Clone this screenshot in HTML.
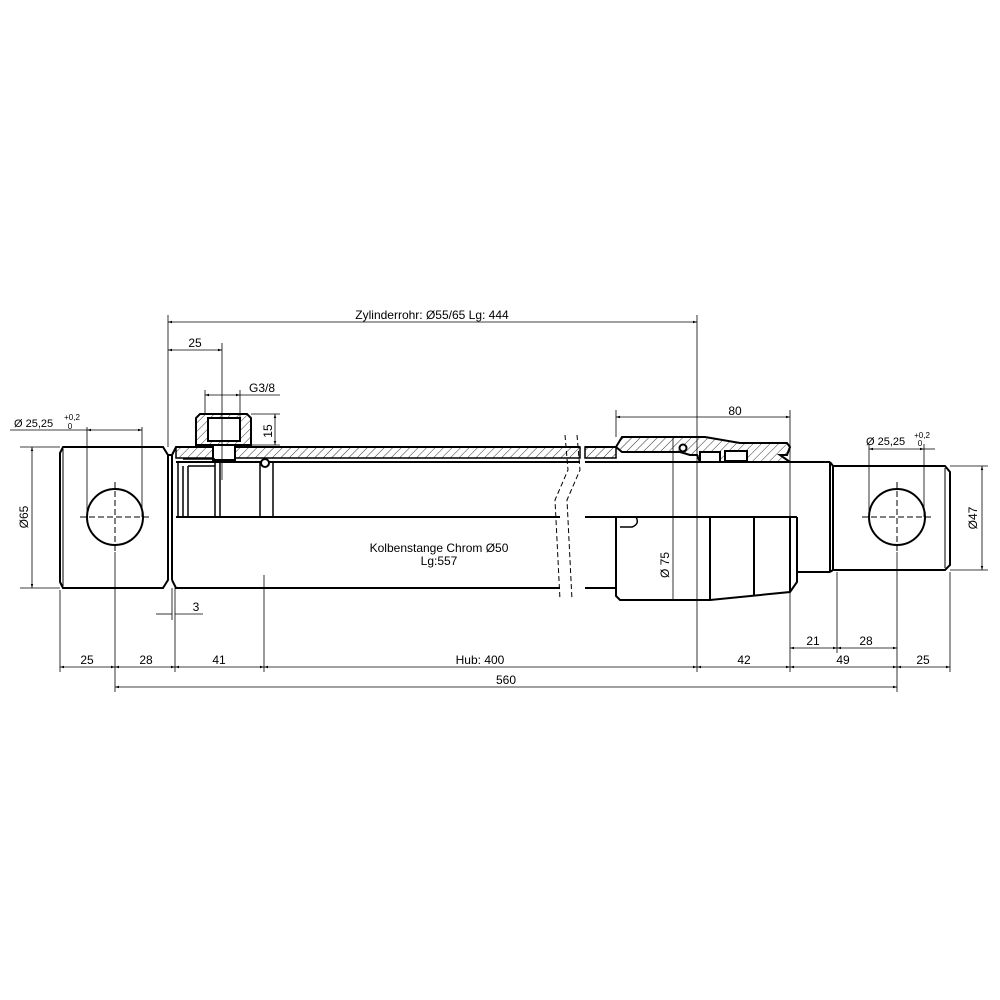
<!DOCTYPE html>
<html><head><style>html,body{margin:0;padding:0;background:#fff}svg{display:block}</style></head><body>
<svg width="1000" height="1000" viewBox="0 0 1000 1000" xmlns="http://www.w3.org/2000/svg" font-family="Liberation Sans, sans-serif">
<defs>
<pattern id="h" width="6" height="6" patternUnits="userSpaceOnUse" patternTransform="rotate(45)"><line x1="0" y1="0" x2="0" y2="6" stroke="#000" stroke-width="0.8"/></pattern>
<marker id="a" viewBox="0 0 10 10" refX="10" refY="5" markerWidth="7" markerHeight="5" orient="auto-start-reverse"><path d="M0,2L10,5L0,8z" fill="#000"/></marker>
</defs>
<rect width="1000" height="1000" fill="#fff"/>
<g fill="none" stroke="#000" stroke-width="2">
<path d="M63,447 L163,447 L168,455 L168,580 L163,588 L63,588 L60,582 L60,453 Z"/>
<line x1="63" y1="449" x2="63" y2="586" stroke-width="1"/>
<circle cx="115" cy="517" r="28"/>
<line x1="168" y1="455" x2="172" y2="455"/>
<line x1="172" y1="455" x2="172" y2="580"/>
<path d="M172,455 L176,447 L580,447"/>
<path d="M172,580 L176,588 L560,588"/>
<rect x="176" y="447" width="404" height="11" fill="url(#h)" stroke-width="1.5"/>
<line x1="176" y1="462" x2="580" y2="462"/>
<line x1="176" y1="517" x2="560" y2="517"/>
<path d="M200,414 L247,414 L251,418 L251,445 L196,445 L196,418 Z" fill="url(#h)"/>
<rect x="208" y="418" width="32" height="23" fill="#fff"/>
<rect x="213" y="445" width="22" height="15" fill="#fff"/>
<g stroke-width="1.5">
<line x1="178" y1="462" x2="178" y2="517"/>
<line x1="183" y1="466" x2="183" y2="517"/>
<line x1="188" y1="466" x2="188" y2="517"/>
<line x1="215" y1="462" x2="215" y2="517"/>
<line x1="220" y1="462" x2="220" y2="517"/>
<line x1="260" y1="462" x2="260" y2="517"/>
<line x1="273" y1="462" x2="273" y2="517"/>
<line x1="188" y1="466" x2="215" y2="466"/>
<line x1="183" y1="459" x2="215" y2="459"/>
</g>
<circle cx="265" cy="463" r="4" fill="#fff"/>
<rect x="585" y="447" width="31" height="11" fill="url(#h)" stroke-width="1.5"/>
<line x1="585" y1="447" x2="616" y2="447"/>
<line x1="585" y1="462" x2="830" y2="462"/>
<line x1="585" y1="517" x2="797" y2="517"/>
<line x1="585" y1="588" x2="616" y2="588"/>
<path d="M622,437 L705,437 L740,443 L787,443 L790,447 L787,455 L780,455 L790,462 L720,462 L720,452 L700,452 L700,462 L700,462 L697,455 L690,455 L680,452 L622,452 L616,447 Z" fill="url(#h)"/>
<rect x="725" y="451" width="22" height="10" fill="#fff"/>
<circle cx="683" cy="448" r="3.5" fill="#fff"/>
<path d="M616,517 L616,596 L620,600 L710,600 L790,592 L797,582 L797,517"/>
<path d="M616,517 L636,517 Q640,524 632,527 L620,527" stroke-width="1.5"/>
<line x1="710" y1="517" x2="710" y2="600"/>
<line x1="754" y1="517" x2="754" y2="595"/>
<line x1="790" y1="517" x2="790" y2="592"/>
<line x1="830" y1="462" x2="830" y2="572"/>
<line x1="797" y1="572" x2="830" y2="572"/>
<path d="M830,462 L833,466 L833,570 L830,572"/>
<path d="M833,466 L945,466 L950,472 L950,565 L945,570 L833,570"/>
<line x1="945" y1="468" x2="945" y2="568" stroke-width="1"/>
<circle cx="897" cy="517" r="28"/>
</g>
<g fill="none" stroke="#000" stroke-width="1" stroke-dasharray="5,3">
<path d="M565,435 L568,470 L555,500 L560,600"/>
<path d="M577,435 L580,470 L567,500 L572,600"/>
</g>
<g stroke="#000" stroke-width="1" stroke-dasharray="6,3">
<line x1="80" y1="517" x2="150" y2="517"/><line x1="115" y1="482" x2="115" y2="552"/>
<line x1="862" y1="517" x2="932" y2="517"/><line x1="897" y1="482" x2="897" y2="552"/>
</g>
<g stroke="#000" stroke-width="0.8" fill="none">
<line x1="168" y1="315" x2="168" y2="447"/>
<line x1="697" y1="315" x2="697" y2="672"/>
<line x1="222" y1="343" x2="222" y2="480"/>
<line x1="205" y1="390" x2="205" y2="414"/><line x1="240" y1="390" x2="240" y2="418"/>
<line x1="251" y1="414" x2="280" y2="414"/><line x1="251" y1="445" x2="280" y2="445"/>
<line x1="87" y1="427" x2="87" y2="517"/><line x1="142" y1="427" x2="142" y2="517"/>
<line x1="20" y1="447" x2="60" y2="447"/><line x1="20" y1="588" x2="60" y2="588"/>
<line x1="60" y1="590" x2="60" y2="672"/>
<line x1="115" y1="552" x2="115" y2="692"/>
<line x1="172" y1="588" x2="172" y2="620"/><line x1="175" y1="588" x2="175" y2="672"/>
<line x1="264" y1="575" x2="264" y2="672"/>
<line x1="616" y1="410" x2="616" y2="437"/><line x1="790" y1="410" x2="790" y2="672"/>
<line x1="673" y1="437" x2="673" y2="600"/>
<line x1="837" y1="572" x2="837" y2="653"/>
<line x1="897" y1="552" x2="897" y2="692"/>
<line x1="950" y1="572" x2="950" y2="672"/>
<line x1="869" y1="444" x2="869" y2="517"/><line x1="924" y1="444" x2="924" y2="517"/>
<line x1="950" y1="466" x2="988" y2="466"/><line x1="950" y1="570" x2="988" y2="570"/>
</g>
<g stroke="#000" stroke-width="0.8" marker-start="url(#a)" marker-end="url(#a)">
<line x1="168" y1="322" x2="697" y2="322"/>
<line x1="168" y1="350" x2="222" y2="350"/>
<line x1="205" y1="395" x2="240" y2="395"/>
<line x1="275" y1="414" x2="275" y2="445"/>
<line x1="87" y1="430" x2="142" y2="430"/>
<line x1="32" y1="447" x2="32" y2="588"/>
<line x1="616" y1="417" x2="790" y2="417"/>
<line x1="869" y1="449" x2="924" y2="449"/>
<line x1="982" y1="466" x2="982" y2="570"/>
<line x1="60" y1="667" x2="115" y2="667"/>
<line x1="115" y1="667" x2="175" y2="667"/>
<line x1="175" y1="667" x2="264" y2="667"/>
<line x1="264" y1="667" x2="697" y2="667"/>
<line x1="697" y1="667" x2="790" y2="667"/>
<line x1="790" y1="667" x2="897" y2="667"/>
<line x1="897" y1="667" x2="950" y2="667"/>
<line x1="790" y1="648" x2="837" y2="648"/>
<line x1="837" y1="648" x2="897" y2="648"/>
<line x1="115" y1="687" x2="897" y2="687"/>
</g>
<g stroke="#000" stroke-width="0.8">
<line x1="10" y1="430" x2="87" y2="430"/>
<line x1="240" y1="395" x2="280" y2="395"/>
<line x1="156" y1="614" x2="172" y2="614"/><line x1="175" y1="614" x2="203" y2="614"/>
<line x1="924" y1="449" x2="935" y2="449"/>
</g>
<g fill="#000" font-size="12" text-anchor="middle">
<text x="432" y="319">Zylinderrohr: Ø55/65 Lg: 444</text>
<text x="195" y="347">25</text>
<text x="262" y="392">G3/8</text>
<text x="272" y="431" transform="rotate(-90 272 431)">15</text>
<text x="14" y="427" text-anchor="start" font-size="11">Ø 25,25</text>
<text x="72" y="420" font-size="8">+0,2</text><text x="70" y="429" font-size="8">0</text>
<text x="28" y="517" transform="rotate(-90 28 517)">Ø65</text>
<text x="196" y="611">3</text>
<text x="735" y="415">80</text>
<text x="866" y="445" text-anchor="start" font-size="11">Ø 25,25</text>
<text x="922" y="438" font-size="8">+0,2</text><text x="920" y="446" font-size="8">0</text>
<text x="977" y="518" transform="rotate(-90 977 518)">Ø47</text>
<text x="669" y="565" transform="rotate(-90 669 565)">Ø 75</text>
<text x="439" y="552">Kolbenstange Chrom Ø50</text>
<text x="439" y="565">Lg:557</text>
<text x="87" y="664">25</text><text x="146" y="664">28</text><text x="219" y="664">41</text>
<text x="480" y="664">Hub: 400</text><text x="744" y="664">42</text>
<text x="843" y="664">49</text><text x="923" y="664">25</text>
<text x="813" y="645">21</text><text x="866" y="645">28</text>
<text x="506" y="684">560</text>
</g>
</svg>
</body></html>
